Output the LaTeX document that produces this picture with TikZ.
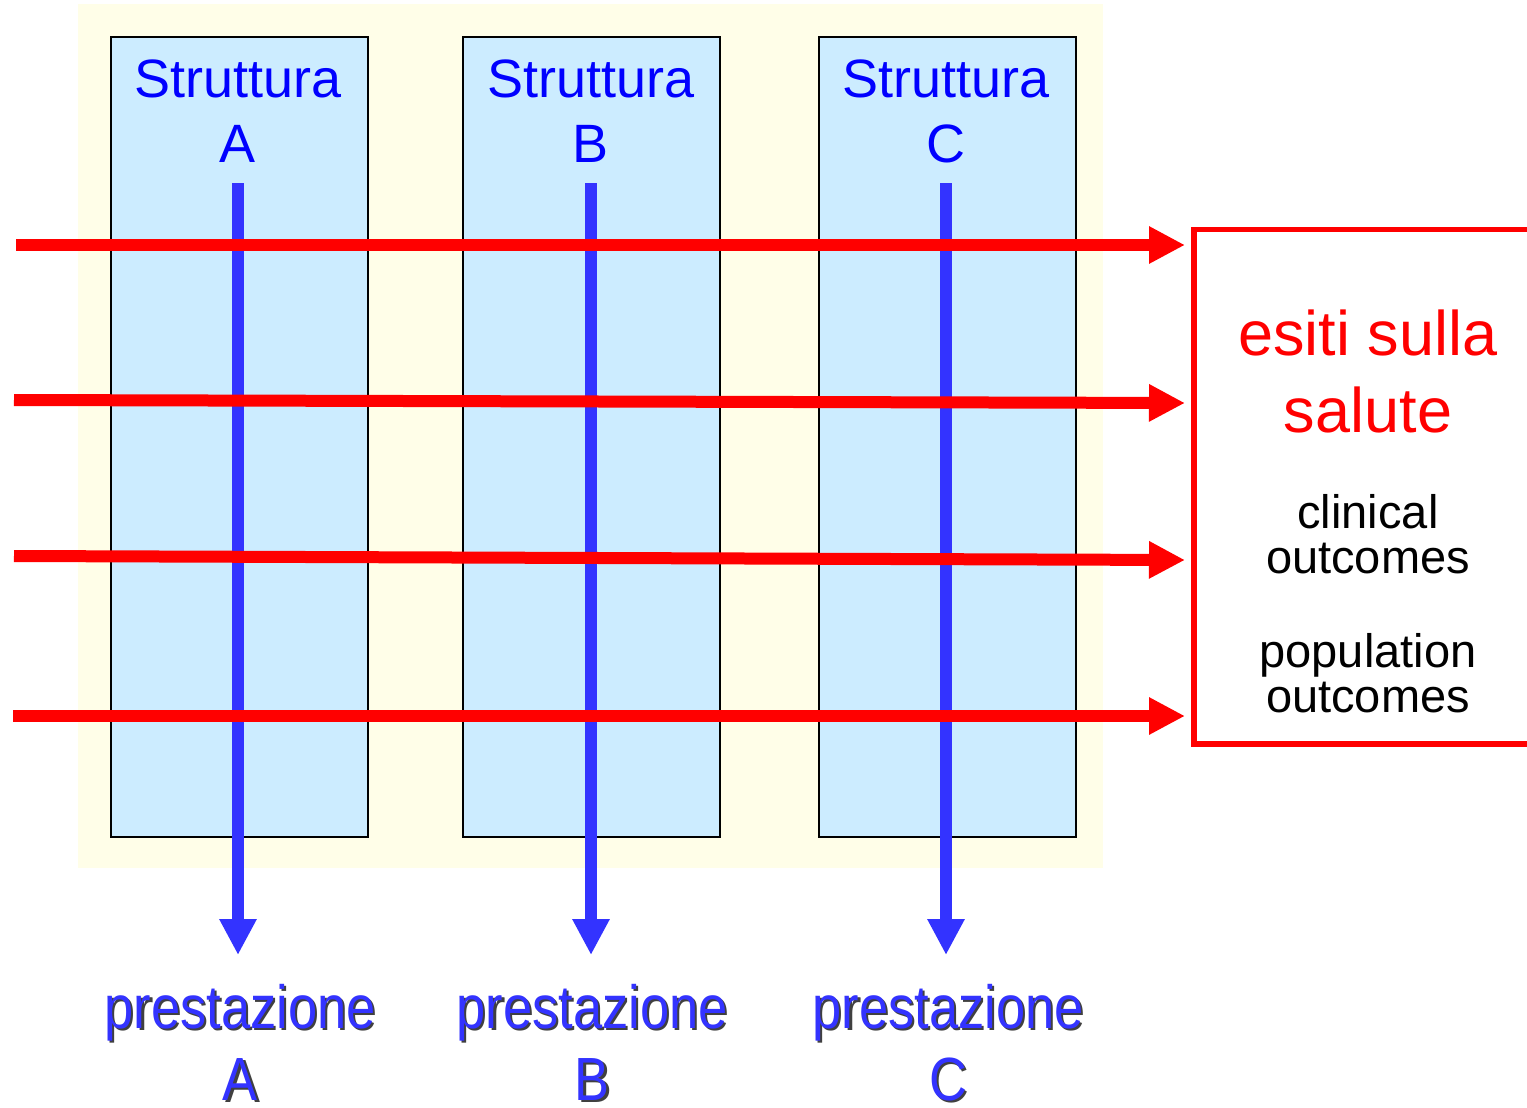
\documentclass[tikz,border=0pt]{standalone}
\usepackage{fontspec}
\setmainfont{Liberation Sans}
\usetikzlibrary{arrows.meta}
\definecolor{bgyellow}{HTML}{FFFEE8}
\definecolor{boxblue}{HTML}{CCECFF}
\definecolor{txtblue}{HTML}{0000FF}
\definecolor{arrblue}{HTML}{3333FF}
\definecolor{arrred}{HTML}{FF0000}
\tikzset{
  x=1pt, y=-1pt,
  strbox/.style={draw=black, line width=2pt, fill=boxblue, minimum width=257pt, minimum height=800pt, inner sep=0pt, anchor=north west},
  strtxt/.style={text=txtblue, font=\fontsize{54}{54}\selectfont, anchor=base, inner sep=0pt},
  bluearrow/.style={draw=arrblue, line width=12pt, -{Triangle[width=35pt,length=36pt]}},
  redarrow/.style={draw=arrred, line width=12pt, -{Triangle[width=35pt,length=36pt]}},
  redtxt/.style={text=arrred, font=\fontsize{63}{63}\selectfont, anchor=base, inner sep=0pt},
  blktxt/.style={text=black, font=\fontsize{47}{47}\selectfont, anchor=base, inner sep=0pt},
  prtxt/.style={text=arrblue, font=\fontsize{61}{61}\selectfont, anchor=base, inner sep=0pt},
  prshadow/.style={text=black!75, font=\fontsize{61}{61}\selectfont, anchor=base, inner sep=0pt},
}
\newcommand{\prlabel}[4]{%
  \node[prshadow] (#1s) at (#2+2.5,#3+2.5) {\scalebox{0.86}[1]{#4}};
  \node[prtxt] (#1) at (#2,#3) {\scalebox{0.86}[1]{#4}};
}
\begin{document}
\begin{tikzpicture}
\clip (0,0) rectangle (1527,1108);
\fill[white] (0,0) rectangle (1527,1108);
% background
\fill[bgyellow] (78,4) rectangle (1103,868);
% boxes
\node[strbox] (boxA) at (110,36) {};
\node[strbox] (boxB) at (462,36) {};
\node[strbox] (boxC) at (818,36) {};
% titles
\node[strtxt] (tA1) at (238,98) {Struttura};
\node[strtxt] (tA2) at (238,162) {A};
\node[strtxt] (tB1) at (591,98) {Struttura};
\node[strtxt] (tB2) at (591,162) {B};
\node[strtxt] (tC1) at (946,98) {Struttura};
\node[strtxt] (tC2) at (946,162) {C};
% blue arrows
\coordinate (bsA) at (238,183); \coordinate (beA) at (238,955);
\coordinate (bsB) at (591,183); \coordinate (beB) at (591,955);
\coordinate (bsC) at (946,183); \coordinate (beC) at (946,955);
\draw[bluearrow] (bsA) -- (beA);
\draw[bluearrow] (bsB) -- (beB);
\draw[bluearrow] (bsC) -- (beC);
% output box
\draw[draw=arrred, line width=5.5pt] (1560,229.5) -- (1194,229.5) -- (1194,744) -- (1560,744);
\coordinate (outbox) at (1194,486);
% red arrows
\coordinate (rs1) at (16,245); \coordinate (re1) at (1185,245);
\coordinate (rs2) at (14,400); \coordinate (re2) at (1185,403);
\coordinate (rs3) at (14,556); \coordinate (re3) at (1185,560);
\coordinate (rs4) at (13,716); \coordinate (re4) at (1185,716);
\draw[redarrow] (rs1) -- (re1);
\draw[redarrow] (rs2) -- (re2);
\draw[redarrow] (rs3) -- (re3);
\draw[redarrow] (rs4) -- (re4);
% box texts
\node[redtxt] (e1) at (1368,355) {esiti sulla};
\node[redtxt] (e2) at (1368,432) {salute};
\node[blktxt] (c1) at (1368,528) {clinical};
\node[blktxt] (c2) at (1368,573) {outcomes};
\node[blktxt] (p1) at (1368,667) {population};
\node[blktxt] (p2) at (1368,712) {outcomes};
% bottom labels
\prlabel{pA1}{240}{1028}{prestazione}
\prlabel{pA2}{240}{1100}{A}
\prlabel{pB1}{592}{1028}{prestazione}
\prlabel{pB2}{592}{1100}{B}
\prlabel{pC1}{948}{1028}{prestazione}
\prlabel{pC2}{948}{1100}{C}
\end{tikzpicture}
\end{document}
